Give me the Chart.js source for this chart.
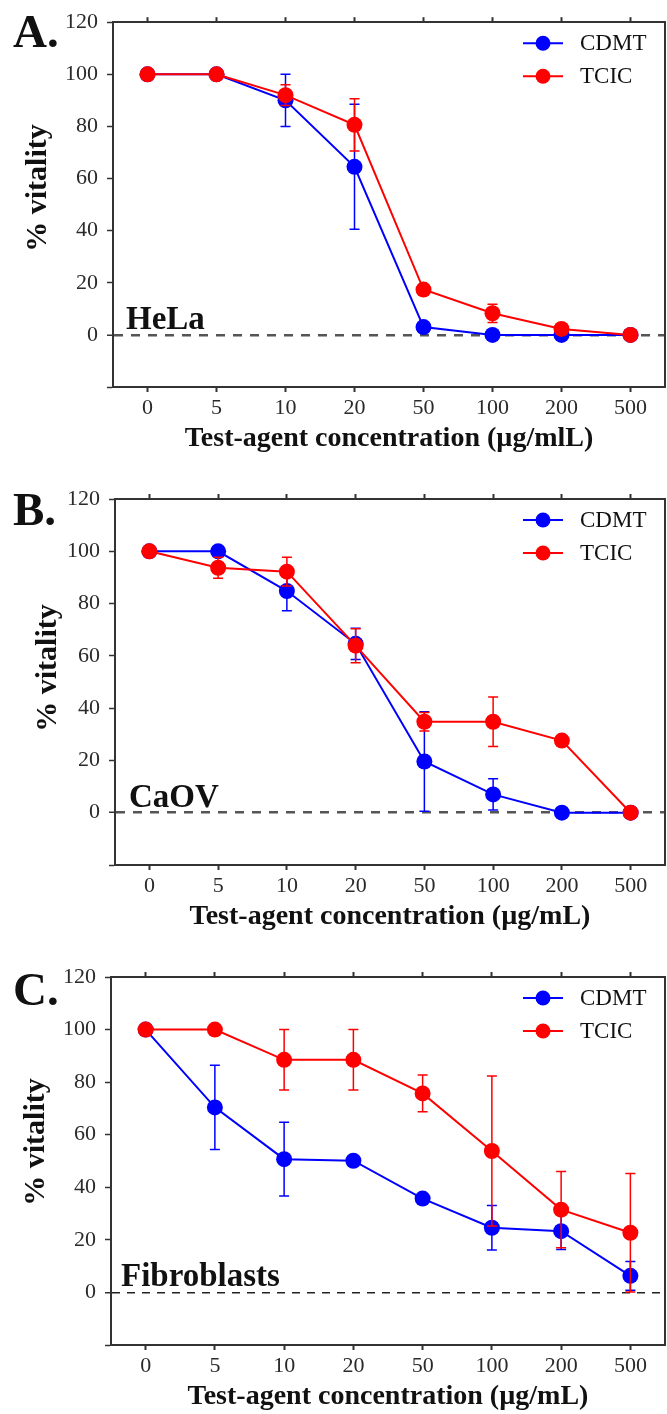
<!DOCTYPE html>
<html>
<head>
<meta charset="utf-8">
<script src="https://cdn.jsdelivr.net/npm/chart.js@4/dist/chart.umd.min.js"></script>
<style>
    body { margin: 0; background: #fff; }
    #wrap { position: relative; width: 667px; height: 1414px; }
    canvas { position: absolute; left: 0; }
</style>
</head>
<body>
<div id="wrap">
    <canvas id="chartA" width="667" height="460" style="top:0px"></canvas>
    <canvas id="chartB" width="667" height="475" style="top:470px"></canvas>
    <canvas id="chartC" width="667" height="469" style="top:945px"></canvas>
</div>
<script>
// concentrations on the x axis (µg/mL)
var concLabels = ['0', '5', '10', '20', '50', '100', '200', '500'];

// A. HeLa
var helaCDMT = [100, 100, 90, 64.5, 3, 0, 0, 0];
var helaCDMTErr = [0, 0, 10, 24, 0, 0, 0, 0];
var helaTCIC = [100, 100, 92, 80.6, 17.4, 8.3, 2.3, 0];
var helaTCICErr = [0, 0, 4, 10, 1, 3.5, 1.5, 0];

// B. CaOV
var caovCDMT = [100, 100, 84.8, 64.6, 19.6, 7, 0, 0];
var caovCDMTErr = [0, 0, 7.5, 6, 19, 6, 0, 0];
var caovTCIC = [100, 93.7, 92.2, 63.9, 34.8, 34.8, 27.6, 0];
var caovTCICErr = [0, 4, 5.5, 6.5, 3.5, 9.5, 1, 0];

// C. Fibroblasts
var fibroCDMT = [100, 70.4, 50.7, 50.1, 35.7, 24.6, 23.3, 6.3];
var fibroCDMTErr = [0, 16, 14, 1.5, 1.5, 8.5, 7, 5.5];
var fibroTCIC = [100, 100, 88.5, 88.5, 75.7, 53.8, 31.5, 22.7];
var fibroTCICErr = [0, 0, 11.5, 11.5, 7, 28.5, 14.5, 22.5];

var yTicksShown = [0, 20, 40, 60, 80, 100, 120];

var SERIF = "'Liberation Serif', 'Times New Roman', serif";
var BLUE = '#0000ff', RED = '#ff0000', AXIS = '#333333', TICK = '#2a2a2a', INK = '#111111';

//error bars, drawn just before each dataset so the markers sit on top
var errorBars = {
    id: 'errorBars',
    beforeDatasetDraw: function (chart, args) {
        var ds = chart.data.datasets[args.index];
        if (!ds.errors) return;
        var ctx = chart.ctx, yScale = chart.scales.y;
        ctx.save();
        ctx.strokeStyle = ds.borderColor;
        ctx.lineWidth = 1.5;
        args.meta.data.forEach(function (pt, i) {
            var e = ds.errors[i];
            if (!e) return;
            var top = yScale.getPixelForValue(ds.data[i] + e);
            var bot = yScale.getPixelForValue(ds.data[i] - e);
            ctx.beginPath();
            ctx.moveTo(pt.x, top); ctx.lineTo(pt.x, bot);
            ctx.moveTo(pt.x - 5, top); ctx.lineTo(pt.x + 5, top);
            ctx.moveTo(pt.x - 5, bot); ctx.lineTo(pt.x + 5, bot);
            ctx.stroke();
        });
        ctx.restore();
    }
};

//panel letter, y title, cell line name and the legend inside the plot box
var panelText = {
    id: 'panelText',
    afterDraw: function (chart, args, o) {
        var ctx = chart.ctx, area = chart.chartArea;
        var y0 = chart.scales.y.getPixelForValue(0);
        ctx.save();
        ctx.fillStyle = INK;
        ctx.textAlign = 'left';
        ctx.textBaseline = 'alphabetic';
        ctx.font = 'bold 47px ' + SERIF;
        ctx.fillText(o.letter, 13, area.top + o.letterDrop);
        ctx.font = 'bold 33px ' + SERIF;
        ctx.fillText(o.cell, area.left + o.cellInset, y0 - 6);

        ctx.save();
        ctx.translate(o.yTitleX, o.yTitleY);
        ctx.rotate(-Math.PI / 2);
        ctx.textAlign = 'center';
        ctx.textBaseline = 'middle';
        ctx.font = 'bold 30px ' + SERIF;
        ctx.fillText('% vitality', 0, 0);
        ctx.restore();

        ctx.font = '23px ' + SERIF;
        ctx.textBaseline = 'middle';
        chart.data.datasets.forEach(function (ds, i) {
            var ly = area.top + 21 + i * 33, lx = area.right - 142;
            ctx.strokeStyle = ds.borderColor;
            ctx.lineWidth = 2;
            ctx.beginPath(); ctx.moveTo(lx, ly); ctx.lineTo(lx + 40, ly); ctx.stroke();
            ctx.fillStyle = ds.backgroundColor;
            ctx.beginPath(); ctx.arc(lx + 20, ly, 7.5, 0, Math.PI * 2); ctx.fill();
            ctx.fillStyle = INK;
            ctx.fillText(ds.label, lx + 57, ly + 1);
        });
        ctx.restore();
    }
};

function makePanel(id, p) {
    var canvas = document.getElementById(id), H = canvas.height, W = canvas.width;
    return new Chart(canvas, {
        type: 'line',
        data: {
            labels: concLabels,
            datasets: [
                { label: 'CDMT', data: p.cdmt, errors: p.cdmtErr, borderColor: BLUE, backgroundColor: BLUE, order: 1 },
                { label: 'TCIC', data: p.tcic, errors: p.tcicErr, borderColor: RED, backgroundColor: RED, order: 0 }
            ]
        },
        options: {
            responsive: false,
            animation: false,
            layout: { padding: 0, autoPadding: false },
            elements: {
                line: { borderWidth: 2, tension: 0 },
                point: { radius: 8, hoverRadius: 8, borderWidth: 0 }
            },
            plugins: {
                legend: { display: false },
                tooltip: { enabled: false },
                panelText: {
                    letter: p.letter, cell: p.cell, letterDrop: p.letterDrop, cellInset: p.cellInset,
                    yTitleX: p.yTitleX, yTitleY: p.yTitleY
                }
            },
            scales: {
                x: {
                    type: 'category', position: 'bottom', offset: true,
                    grid: { drawOnChartArea: false, offset: false, tickLength: 5, tickColor: AXIS, tickWidth: 2 },
                    border: { color: AXIS, width: 2 },
                    ticks: { color: TICK, font: { family: SERIF, size: 22 }, padding: 3, maxRotation: 0, autoSkip: false },
                    title: {
                        display: true, text: p.xTitle, color: INK,
                        font: { family: SERIF, size: 28, weight: 'bold' },
                        padding: { top: 0, bottom: p.xTitlePad }
                    },
                    afterFit: function (s) { s.height = H - p.bottom; s.paddingLeft = 0; s.paddingRight = 0; }
                },
                xTop: {
                    type: 'category', position: 'top', offset: true,
                    grid: { drawOnChartArea: false, offset: false, tickLength: 5, tickColor: AXIS, tickWidth: 2 },
                    border: { color: AXIS, width: 2 },
                    ticks: { display: false },
                    afterFit: function (s) { s.height = p.top; s.paddingLeft = 0; s.paddingRight = 0; }
                },
                y: {
                    position: 'left', min: -20, max: 120,
                    ticks: {
                        stepSize: 10, color: TICK, padding: 9,
                        font: { family: SERIF, size: 22 },
                        callback: function (v) { return yTicksShown.indexOf(v) >= 0 ? String(v) : ''; }
                    },
                    grid: {
                        color: function (c) { return c.tick && c.tick.value === 0 ? p.zeroColor : 'rgba(0,0,0,0)'; },
                        lineWidth: function (c) { return c.tick && c.tick.value === 0 ? p.zeroWidth : 1; },
                        tickLength: 6, tickColor: AXIS, tickWidth: 1.5
                    },
                    border: { color: AXIS, width: 2, dash: p.zeroDash },
                    afterFit: function (s) { s.width = p.left; }
                },
                yRight: {
                    position: 'right', min: -20, max: 120,
                    grid: { drawOnChartArea: false, drawTicks: false, tickLength: 0 },
                    ticks: { display: false, padding: 0 },
                    border: { color: AXIS, width: 2 },
                    afterFit: function (s) { s.width = W - p.right; }
                }
            }
        },
        plugins: [errorBars, panelText]
    });
}

makePanel('chartA', {
    cdmt: helaCDMT, cdmtErr: helaCDMTErr, tcic: helaTCIC, tcicErr: helaTCICErr,
    letter: 'A.', cell: 'HeLa', xTitle: 'Test-agent concentration (µg/mlL)',
    left: 113, right: 665, top: 20, bottom: 387,
    xTitlePad: 4, yTitleX: 38, yTitleY: 188, letterDrop: 25, cellInset: 13,
    zeroColor: '#555555', zeroWidth: 2.5, zeroDash: [9, 8]
});

makePanel('chartB', {
    cdmt: caovCDMT, cdmtErr: caovCDMTErr, tcic: caovTCIC, tcicErr: caovTCICErr,
    letter: 'B.', cell: 'CaOV', xTitle: 'Test-agent concentration (µg/mL)',
    left: 115, right: 665, top: 29, bottom: 395,
    xTitlePad: 11, yTitleX: 48, yTitleY: 198, letterDrop: 26, cellInset: 14,
    zeroColor: '#555555', zeroWidth: 2.5, zeroDash: [9, 8]
});

makePanel('chartC', {
    cdmt: fibroCDMT, cdmtErr: fibroCDMTErr, tcic: fibroTCIC, tcicErr: fibroTCICErr,
    letter: 'C.', cell: 'Fibroblasts', xTitle: 'Test-agent concentration (µg/mL)',
    left: 111, right: 665, top: 32, bottom: 400,
    xTitlePad: 0, yTitleX: 36, yTitleY: 197, letterDrop: 28, cellInset: 10,
    zeroColor: '#222222', zeroWidth: 1.5, zeroDash: [8, 7]
});
</script>
</body>
</html>
